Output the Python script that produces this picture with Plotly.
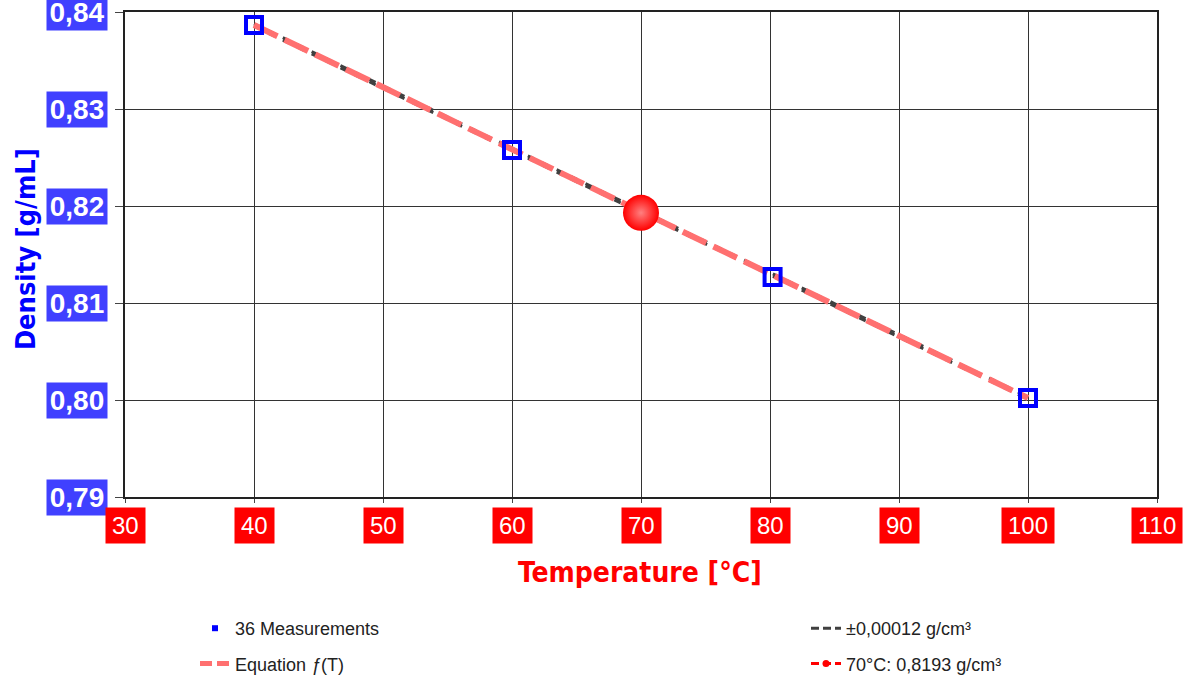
import plotly.graph_objects as go

# ---- data ----
meas_T = [40.0, 60.0, 80.2, 100.0]
meas_rho = [0.83866, 0.82577, 0.81268, 0.80020]
eq_T = [40.0, 100.0]
eq_rho = [0.83866, 0.80020]
band = 0.00012
point_T = [70.0]
point_rho = [0.8193]
x_ticks = [30, 40, 50, 60, 70, 80, 90, 100, 110]
x_tick_labels = ["30", "40", "50", "60", "70", "80", "90", "100", "110"]
y_ticks = [0.79, 0.80, 0.81, 0.82, 0.83, 0.84]
y_tick_labels = ["0,79", "0,80", "0,81", "0,82", "0,83", "0,84"]

SALMON = "#FF7070"
DARK = "#404040"
NARROW = "Liberation Sans Narrow, DejaVu Sans Condensed, Arial Narrow, sans-serif"
ARIAL = "Liberation Sans, Arial, sans-serif"

fig = go.Figure()

# tolerance band lines (under the equation line)
fig.add_trace(go.Scatter(x=eq_T, y=[v + band for v in eq_rho], mode="lines",
                         line=dict(color=DARK, width=3, dash="7px,9px"),
                         showlegend=False, hoverinfo="skip"))
fig.add_trace(go.Scatter(x=eq_T, y=[v - band for v in eq_rho], mode="lines",
                         line=dict(color=DARK, width=3, dash="7px,9px"),
                         showlegend=False, hoverinfo="skip"))
# equation line
fig.add_trace(go.Scatter(x=eq_T, y=eq_rho, mode="lines",
                         line=dict(color=SALMON, width=6, dash="26px,8px"),
                         showlegend=False))
# measurements
fig.add_trace(go.Scatter(x=meas_T, y=meas_rho, mode="markers",
                         marker=dict(symbol="square-open", size=16, color="#0000FF",
                                     line=dict(width=4, color="#0000FF")),
                         showlegend=False))
# highlighted point
fig.add_trace(go.Scatter(x=point_T, y=point_rho, mode="markers",
                         marker=dict(symbol="circle", size=36, color="#FF0000",
                                     gradient=dict(type="radial", color="#FF8080"),
                                     line=dict(width=0)),
                         showlegend=False))

# legend entries
fig.add_trace(go.Scatter(x=[None], y=[None], mode="markers", name="36 Measurements",
                         marker=dict(symbol="square", size=6, color="#0000FF"),
                         legend="legend", legendgroup="a"))
fig.add_trace(go.Scatter(x=[None], y=[None], mode="lines", name="Equation <i>ƒ</i>(T)",
                         line=dict(color=SALMON, width=5, dash="12px,5px"),
                         legend="legend", legendgroup="b"))
fig.add_trace(go.Scatter(x=[None], y=[None], mode="lines", name="±0,00012 g/cm³",
                         line=dict(color=DARK, width=3, dash="8px,4px"),
                         legend="legend2", legendgroup="c"))
fig.add_trace(go.Scatter(x=[None], y=[None], mode="lines+markers", name="70°C: 0,8193 g/cm³",
                         line=dict(color="#FF0000", width=3, dash="8px,4px"),
                         marker=dict(symbol="circle", size=7, color="#FF0000"),
                         legend="legend2", legendgroup="d"))

annotations = []
for v, t in zip(y_ticks, y_tick_labels):
    annotations.append(dict(xref="paper", x=0, xanchor="right", xshift=-17,
                            yref="y", y=v, yanchor="middle", text="<b>" + t + "</b>",
                            showarrow=False, bgcolor="#4040FF", width=58, height=33,
                            font=dict(family=ARIAL, size=28, color="white")))
for v, t in zip(x_ticks, x_tick_labels):
    annotations.append(dict(xref="x", x=v, xanchor="center", yref="paper", y=0,
                            yanchor="top", yshift=-10, text=t, showarrow=False,
                            bgcolor="#FF0000", height=23, borderpad=6,
                            font=dict(family=ARIAL, size=24, color="white")))
annotations.append(dict(xref="paper", x=0.499, yref="paper", y=-0.155, text="<b>Temperature [°C]</b>",
                        showarrow=False, xanchor="center", yanchor="middle",
                        font=dict(family=NARROW, size=28, color="#FF0000")))
annotations.append(dict(xref="paper", x=-0.097, yref="paper", y=0.511, text="<b>Density [g/mL]</b>",
                        showarrow=False, xanchor="center", yanchor="middle", textangle=-90,
                        font=dict(family=NARROW, size=27, color="#0000FF")))

fig.update_layout(
    width=1187, height=675,
    margin=dict(l=125, r=30, t=12, b=178, autoexpand=False),
    paper_bgcolor="white", plot_bgcolor="white",
    annotations=annotations,
    xaxis=dict(range=[30, 110], tickvals=x_ticks, showticklabels=False,
               showgrid=True, gridcolor="#333333", gridwidth=1,
               showline=True, linecolor="#222222", linewidth=2, mirror=True,
               ticks="outside", ticklen=4, tickcolor="#444444", zeroline=False),
    yaxis=dict(range=[0.79, 0.84], tickvals=y_ticks, showticklabels=False,
               showgrid=True, gridcolor="#333333", gridwidth=1,
               showline=True, linecolor="#222222", linewidth=2, mirror=True,
               ticks="outside", ticklen=8, tickcolor="#444444", zeroline=False),
    legend=dict(x=(195 - 125) / 1032, xanchor="left", y=-0.233, yanchor="top",
                orientation="v", tracegroupgap=9, bgcolor="rgba(0,0,0,0)",
                font=dict(family=ARIAL, size=18, color="#222222")),
    legend2=dict(x=(806 - 125) / 1032, xanchor="left", y=-0.233, yanchor="top",
                 orientation="v", tracegroupgap=9, bgcolor="rgba(0,0,0,0)",
                 font=dict(family=ARIAL, size=18, color="#222222")),
)

fig.write_html("out.html")
